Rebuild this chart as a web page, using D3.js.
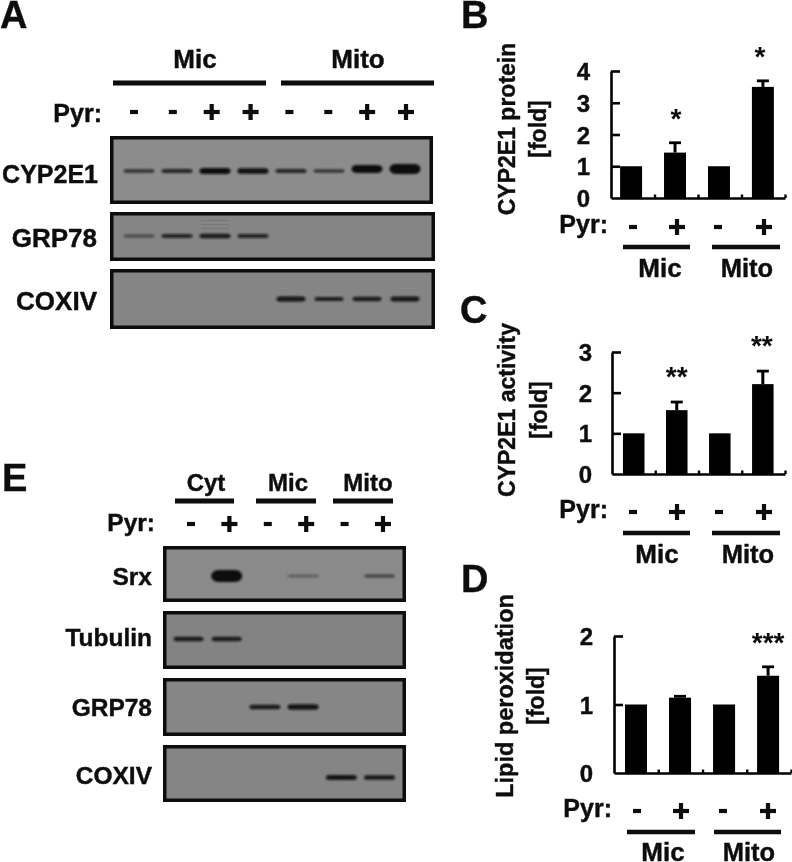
<!DOCTYPE html>
<html><head><meta charset="utf-8">
<script src="https://cdn.jsdelivr.net/npm/d3@7/dist/d3.min.js"></script>
<style>
html,body{margin:0;padding:0;background:#fff}
svg{display:block}
text{font-family:"Liberation Sans",Arial,sans-serif;font-weight:700;fill:#0c0c0c;stroke:#0c0c0c;stroke-width:.4px}
text.star{stroke:none;font-weight:700}
</style></head><body>
<svg id="c" width="792" height="862"></svg>
<script>
// ---------- data ----------
const pyrA = ["-","-","+","+","-","-","+","+"];
const pyrE = ["-","+","-","+","-","+"];
const pyrBars = ["-","+","-","+"];
const blotANames = ["CYP2E1","GRP78","COXIV"];
const cyp2e1Density = [.17,.2,.4,.38,.2,.16,.62,.78];
const grp78ADensity = [.1,.2,.28,.2,0,0,0,0];
const grp78AGhost = [0,0,.012,0,0,0,0,0];
const coxivADensity = [0,0,0,0,.32,.24,.26,.3];
const blotENames = ["Srx","Tubulin","GRP78","COXIV"];
const srxDensity = [0,1,0,.08,0,.12];
const tubulinDensity = [.26,.26,0,0,0,0];
const grp78EDensity = [0,0,.28,.34,0,0];
const coxivEDensity = [0,0,0,0,.32,.28];
const proteinMeans = [1,1.43,1,3.5];
const proteinTops = [1,1.74,1,3.69];
const proteinStars = ["","*","","*"];
const activityMeans = [1,1.57,1,2.21];
const activityTops = [1,1.77,1,2.53];
const activityStars = ["","**","","**"];
const lipidMeans = [1,1.1,1,1.42];
const lipidTops = [1,1.12,1,1.55];
const lipidStars = ["","","","***"];

// ---------- helpers ----------
const svg = d3.select("#c");
const defs = svg.append("defs");
defs.append("filter").attr("id","blur").attr("x","-20%").attr("y","-150%").attr("width","140%").attr("height","400%")
  .append("feGaussianBlur").attr("stdDeviation","1.3 0.8");
defs.append("filter").attr("id","soft").append("feGaussianBlur").attr("stdDeviation","0.4");
const root = svg.append("g").attr("filter","url(#soft)");

function label(t,x,y,size,anchor,rot){
  const s = root.append("text").text(t).attr("font-size",size).attr("text-anchor",anchor||"start");
  if(rot) s.attr("transform",`translate(${x},${y}) rotate(-90)`); else s.attr("x",x).attr("y",y);
  return s;
}
function rule(x0,x1,y,w){ root.append("line").attr("x1",x0).attr("x2",x1).attr("y1",y).attr("y2",y).attr("stroke","#0a0a0a").attr("stroke-width",w||4.5); }
function sign(s,x,y){
  if(s==="+"){ rule(x-8,x+8,y,4.2); root.append("line").attr("x1",x).attr("x2",x).attr("y1",y-8).attr("y2",y+8).attr("stroke","#0a0a0a").attr("stroke-width",4.2);}
  else rule(x-4,x+4,y,4.2);
}
const thickness = d3.scaleLinear().domain([0,1]).range([1.8,12]);
const darkness = d3.scaleLinear().domain([0,.1,.2,.4,1]).range([0,.5,.82,1,1]);

function blot(x0,y0,x1,y1,densities,lanes,bandY,bandW,bg,skew){
  const g = root.append("g");
  g.append("rect").attr("x",x0+1.75).attr("y",y0+1.75).attr("width",x1-x0-3.5).attr("height",y1-y0-3.5)
    .attr("fill",bg).attr("stroke","#0a0a0a").attr("stroke-width",3.5);
  g.selectAll("rect.band").data(densities.map((d,i)=>({d,i})).filter(e=>e.d>0)).enter().append("rect")
    .attr("class","band")
    .attr("x",e=>lanes(e.i)-bandW/2)
    .attr("y",e=>bandY-thickness(e.d)/2-(skew?skew(e.i):0))
    .attr("width",bandW)
    .attr("height",e=>thickness(e.d))
    .attr("rx",e=>Math.min(bandW/2,thickness(e.d)/2+1))
    .attr("fill","#0b0b0b").attr("opacity",e=>darkness(e.d))
    .attr("filter","url(#blur)");
}

function barPanel(o){
  const g = root.append("g");
  const y = d3.scaleLinear().domain([0,o.max]).range([o.y0,o.y1]);
  const x = d3.scaleBand().domain(d3.range(4)).range([o.ax,o.end]).paddingInner(.5).paddingOuter(o.po).align(o.al);
  const xt = d3.scaleLinear().domain([0,4]).range([o.ax,o.end]);

  g.selectAll("rect.bar").data(o.means).enter().append("rect").attr("class","bar")
    .attr("x",(d,i)=>x(i)).attr("width",x.bandwidth())
    .attr("y",d=>y(d)).attr("height",d=>o.y0-y(d)).attr("fill","#050505");

  o.means.forEach((m,i)=>{
    if(o.tops[i]<=m) return;
    const cx = x(i)+x.bandwidth()/2;
    g.append("line").attr("x1",cx).attr("x2",cx).attr("y1",y(m)).attr("y2",y(o.tops[i])).attr("stroke","#050505").attr("stroke-width",3);
    g.append("line").attr("x1",cx-6).attr("x2",cx+6).attr("y1",y(o.tops[i])).attr("y2",y(o.tops[i])).attr("stroke","#050505").attr("stroke-width",2.8);
    if(o.stars[i]) g.append("text").attr("class","star").text(o.stars[i]).attr("x",cx+o.starDx[i]).attr("y",y(o.tops[i])-o.starGap[i])
       .attr("text-anchor","middle").attr("font-size",28);
  });

  const ya = d3.axisLeft(y).tickValues(d3.range(0,o.max+1)).tickFormat(d3.format("d")).tickSizeInner(-9).tickSizeOuter(0).tickPadding(o.pad);
  const yg = g.append("g").attr("transform",`translate(${o.ax},0)`).call(ya);
  yg.selectAll("path,line").attr("stroke","#050505").attr("stroke-width",2.6);
  yg.selectAll("text").attr("font-size",24).attr("dy",".36em").attr("x",-o.pad);
  yg.selectAll(".tick").filter(d=>d===0).select("line").remove();

  const xa = d3.axisBottom(xt).tickValues([1,2,3,4]).tickFormat("").tickSizeInner(-3.5).tickSizeOuter(0);
  const xg = g.append("g").attr("transform",`translate(0,${o.y0})`).call(xa);
  xg.selectAll("path,line").attr("stroke","#050505").attr("stroke-width",2.4);

  label(o.title,o.tx,o.tyc,o.ts,"middle",true);
  label("[fold]",o.fx,o.tyc,23,"middle",true);

  label("Pyr:",o.pyrX,o.pyrY,25,"end");
  pyrBars.forEach((s,i)=>sign(s,o.signX[i],o.pyrY-6));
  rule(o.l1[0],o.l1[1],o.lineY); rule(o.l2[0],o.l2[1],o.lineY);
  label("Mic",o.mic,o.groupY,26,"middle");
  label("Mito",o.mito,o.groupY,25.5,"middle");
}

// ---------- panel letters ----------
[["A",0,28],["B",461,28],["C",460,323],["D",461,592],["E",2,491]].forEach(d=>label(d[0],d[1],d[2],38,"start"));

// ---------- panel A ----------
label("Mic",195,68,26,"middle"); label("Mito",358,68,26,"middle");
rule(113,266,83,5); rule(281,434,83,5);
label("Pyr:",102,122,25,"end");
const lanesA = d3.scalePoint().domain(d3.range(8)).range([139,405]);
const signsA = d3.scalePoint().domain(d3.range(8)).range([134,406]);
pyrA.forEach((s,i)=>sign(s,signsA(i),112));
blot(110,136,433,204,cyp2e1Density,lanesA,171,31,"#8c8c8c",i=>i>=6?2:0);
blot(110,212,435,261,grp78ADensity,lanesA,236,31,"#858585");
// faint ghost lines above the third GRP78 band
[220,224,228].forEach(yy=>root.append("g").selectAll("rect").data(grp78AGhost.map((d,i)=>({d,i})).filter(e=>e.d>0)).enter().append("rect")
  .attr("x",e=>lanesA(e.i)-14).attr("width",28).attr("y",yy).attr("height",1).attr("fill","#222").attr("opacity",e=>e.d*10));
blot(110,269,435,329,coxivADensity,lanesA,299,29,"#858585");
label(blotANames[0],98,183,25,"end");
label(blotANames[1],97,247,26,"end");
label(blotANames[2],97,310,26,"end");

// ---------- panel E ----------
[["Cyt",175,234,206],["Mic",256,316,288],["Mito",333,393,368]].forEach(d=>{rule(d[1],d[2],501,5);label(d[0],d[3],491,24,"middle");});
label("Pyr:",155,531,24.5,"end");
const lanesE = d3.scalePoint().domain(d3.range(6)).range([188.5,379.5]);
const signsE = d3.scalePoint().domain(d3.range(6)).range([191,383]);
pyrE.forEach((s,i)=>sign(s,signsE(i),524));
blot(163,546,406,602,srxDensity,lanesE,576,31,"#8a8a8a");
blot(163,611,406,669,tubulinDensity,lanesE,639,30,"#838383");
blot(163,678,406,736,grp78EDensity,lanesE,707,31,"#868686");
blot(163,745,406,802,coxivEDensity,lanesE,777.5,31,"#858585");
[[blotENames[0],585],[blotENames[1],646],[blotENames[2],716],[blotENames[3],784]].forEach(d=>label(d[0],152,d[1],24.5,"end"));

// ---------- panels B, C, D ----------
barPanel({max:4,y0:198,y1:71,ax:611,end:785,pad:21,po:.23,al:.45,means:proteinMeans,tops:proteinTops,stars:proteinStars,starGap:[0,15,0,15],starDx:[0,1,0,-3],
  title:"CYP2E1 protein",ts:23,tx:515,fx:546,tyc:129,pyrX:608,pyrY:233,signX:[633,677,718,764],lineY:247,l1:[623,690],l2:[712,780],mic:660,mito:747,groupY:277});
barPanel({max:3,y0:474,y1:352,ax:612,end:785,pad:20,po:.26,al:.49,means:activityMeans,tops:activityTops,stars:activityStars,starGap:[0,16,0,16],starDx:[0,0,0,-1],
  title:"CYP2E1 activity",ts:23,tx:515,fx:547,tyc:410,pyrX:608,pyrY:518,signX:[633,677,719,764],lineY:533,l1:[623,690],l2:[712,780],mic:657,mito:748,groupY:563});
barPanel({max:2,y0:773,y1:636,ax:614,end:791,pad:21,po:.26,al:.48,means:lipidMeans,tops:lipidTops,stars:lipidStars,starGap:[0,0,0,15],starDx:[0,0,0,0],
  title:"Lipid peroxidation",ts:23.5,tx:513,fx:544,tyc:696,pyrX:612,pyrY:817,signX:[637,681,723,768],lineY:832,l1:[627,695],l2:[714,781],mic:663,mito:749,groupY:860.5});
</script>
</body></html>
